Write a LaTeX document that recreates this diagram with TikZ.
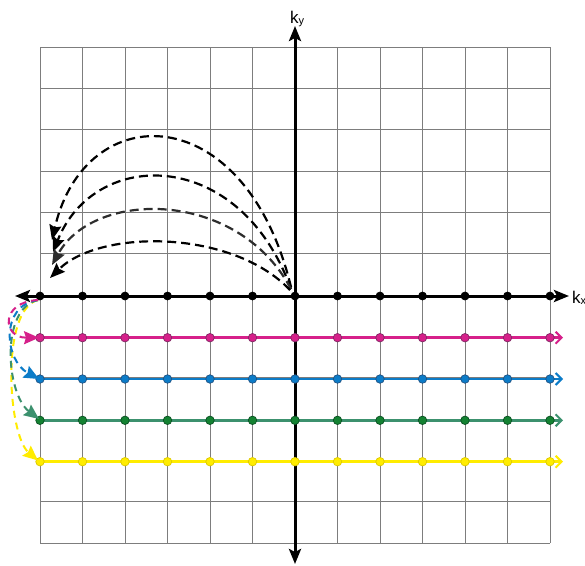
\documentclass[tikz,border=0pt]{standalone}
\usepackage{fontspec}
\setmainfont{Liberation Sans}
\usetikzlibrary{arrows.meta}
\definecolor{gridgray}{RGB}{125,125,125}
\definecolor{mag}{RGB}{214,32,138}
\definecolor{magd}{RGB}{130,40,100}
\definecolor{blu}{RGB}{12,124,200}
\definecolor{blud}{RGB}{30,80,130}
\definecolor{grn}{RGB}{60,145,110}
\definecolor{grnf}{RGB}{20,130,50}
\definecolor{grnd}{RGB}{10,80,35}
\definecolor{yel}{RGB}{255,236,0}
\definecolor{yeld}{RGB}{220,200,0}
\definecolor{arcgray}{RGB}{45,45,45}
\begin{document}
\begin{tikzpicture}[x=1pt,y=-1pt,
  gridline/.style={gridgray,line width=0.8pt},
  axisline/.style={line width=3pt,{Stealth[length=15pt,width=12pt,inset=3pt]}-{Stealth[length=15pt,width=12pt,inset=3pt]}},
  colline/.style={#1,line width=2.5pt,-{Straight Barb[length=6pt,width=12pt,line width=2pt]}},
  cdash/.style={#1,line width=2pt,dash pattern=on 7pt off 5pt,-{Stealth[length=15pt,width=13pt,inset=2pt]}},
  kdash/.style={#1,line width=2.2pt,dash pattern=on 9pt off 5pt,-{Stealth[length=15pt,width=12pt,inset=2pt]}},
  dot/.style 2 args={circle,inner sep=0pt,minimum size=8.5pt,fill=#1,draw=#2,line width=0.7pt},
  klabel/.style={anchor=base west,inner sep=0pt,font=\fontsize{17}{17}\selectfont}
]
\useasboundingbox (0,0) rectangle (585,565);
\fill[white] (0,0) rectangle (585,565);
% grid
\foreach \i in {0,...,12}{
  \draw[gridline] ({40+42.5*\i},47) -- ({40+42.5*\i},543);
  \draw[gridline] (40,{47+41.333*\i}) -- (550,{47+41.333*\i});
}
% axes
\coordinate (xl) at (15,296);
\coordinate (xr) at (569,296);
\coordinate (yt) at (295,26);
\coordinate (yb) at (295,564);
\draw[axisline] (yb) -- (yt);
\draw[axisline] (xl) -- (xr);
% colored lines
\coordinate (ms) at (40,337.7); \coordinate (me) at (563,337.7);
\coordinate (bs) at (40,379);   \coordinate (be) at (563,379);
\coordinate (gs) at (40,420.3); \coordinate (ge) at (563,420.3);
\coordinate (ys) at (40,461.7); \coordinate (ye) at (563,461.7);
\draw[colline=mag] (ms) -- (me);
\draw[colline=blu] (bs) -- (be);
\draw[colline=grn] (gs) -- (ge);
\draw[colline=yel] (ys) -- (ye);
% dots
\foreach \i in {0,...,12}{
  \node[dot={black}{black},minimum size=8pt] (k\i) at ({40+42.5*\i},296) {};
  \node[dot={mag}{magd}] (m\i) at ({40+42.5*\i},337.7) {};
  \node[dot={blu}{blud}] (b\i) at ({40+42.5*\i},379) {};
  \node[dot={grnf}{grnd}] (g\i) at ({40+42.5*\i},420.3) {};
  \node[dot={yel}{yeld}] (y\i) at ({40+42.5*\i},461.7) {};
}
% left colored dashed curves
\coordinate (cs) at (38,300);
\coordinate (mt) at (39,337.7);
\coordinate (bt) at (39,379);
\coordinate (gt) at (39,419);
\coordinate (yt2) at (38,460.5);
\draw[cdash=yel] (cs) .. controls (0,310) and (8,435) .. (yt2);
\draw[cdash=grn] (cs) .. controls (0,308) and (6,394) .. (gt);
\draw[cdash=blu] (cs) .. controls (0,305) and (4,360) .. (bt);
\draw[cdash=mag] (cs) .. controls (0,302) and (2,337.7) .. (mt);
% black dashed arcs
\coordinate (o1) at (291,287);
\coordinate (o2) at (291,289);
\coordinate (o3) at (291,289);
\coordinate (o4) at (290,290);
\coordinate (a1) at (52,240);
\coordinate (a2) at (53,252);
\coordinate (a3) at (52,265);
\coordinate (a4) at (50,278);
\draw[kdash=black] (o1) .. controls (245,97) and (85,97) .. (a1);
\draw[kdash=black] (o2) .. controls (240,147) and (95,147) .. (a2);
\draw[kdash=arcgray] (o3) .. controls (238,189) and (94,189) .. (a3);
\draw[kdash=black] (o4) .. controls (232,229) and (100,229) .. (a4);
% labels
\node[klabel] (ky) at (290,23) {k\raisebox{-1.5pt}{\fontsize{11}{11}\selectfont y}};
\node[klabel] (kx) at (572,303) {k\raisebox{-1.5pt}{\fontsize{11}{11}\selectfont x}};
\end{tikzpicture}
\end{document}
